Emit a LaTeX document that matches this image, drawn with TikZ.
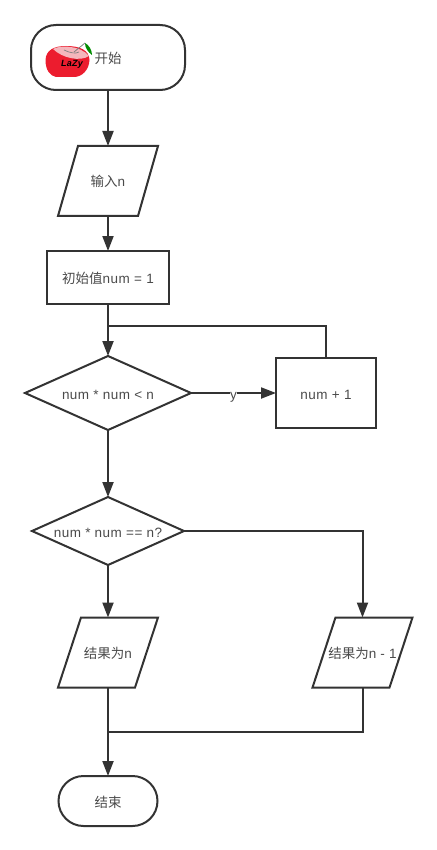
\documentclass[tikz,border=0pt]{standalone}
\usepackage{fontspec}
\setmainfont[LetterSpace=3.5]{Liberation Sans}
\newfontfamily\cjk{Noto Sans CJK SC}
\usepackage{xcolor}
\usepackage{tikz}
\usetikzlibrary{arrows.meta,shapes.geometric,calc}
\definecolor{linegray}{HTML}{333333}
\definecolor{textgray}{HTML}{4A4A4A}
\definecolor{applered}{HTML}{EC1C2E}
\definecolor{applepink}{HTML}{F4B6BC}
\tikzset{
  flowline/.style={draw=linegray,line width=2pt,line join=miter},
  flowarrow/.style={flowline,-{Triangle[length=15pt,width=11pt]}},
  flowtext/.style={font=\fontsize{13.5}{16}\selectfont,text=textgray,inner sep=0pt,outer sep=0pt,text height=12pt,text depth=0pt},
  terminalbox/.style={flowtext,flowline,rectangle,rounded corners=25pt},
  processbox/.style={flowtext,flowline,rectangle},
  decisionbox/.style={flowtext,flowline,diamond},
  inputbox/.style={flowtext,rectangle},
}
\begin{document}
\begin{tikzpicture}[x=1pt,y=-1pt]
\useasboundingbox (0,0) rectangle (436,850);
% Start and end
\node[terminalbox,minimum width=154pt,minimum height=65pt] (start) at (108,57.5) {};
\node[flowtext] (starttext) at (108,58) {{\cjk 开始}};
\node[terminalbox,minimum width=99pt,minimum height=50pt] (stop) at (108,801) {{\cjk 结束}};
% Boxes
\node[processbox,minimum width=122pt,minimum height=53pt] (init) at (108,277.5) {{\cjk 初始值}num = 1};
\node[processbox,minimum width=100pt,minimum height=70pt] (add) at (326,393) {num + 1};
% Decisions
\node[decisionbox,aspect=2.24,minimum width=166pt,minimum height=74pt] (less) at (108,393) {num * num < n};
\node[decisionbox,aspect=2.23,minimum width=152pt,minimum height=68pt] (equal) at (108,531) {num * num == n?};
% Parallelograms
\foreach \name/\x/\y/\skew/\label in {read/108/181/20/{{\cjk 输入}n}, resa/108/652.5/23/{{\cjk 结果为}n}, resb/362.5/652.5/23/{{\cjk 结果为}n - 1}} {
  \node[inputbox,minimum width=100pt,minimum height=70pt] (\name) at (\x,\y) {\label};
  \draw[flowline] ($(\name.north west)+(\skew pt,0)$) -- (\name.north east)
    -- ($(\name.south east)-(\skew pt,0)$) -- (\name.south west) -- cycle;
}
% Apple logo
\fill[applered] (45.5,60) .. controls (46,50) and (54,46) .. (66,46) .. controls (80,46) and (89,50) .. (89.5,60)
  .. controls (89,70) and (82,77) .. (74,77) -- (56,77) .. controls (50,76) and (45.5,70) .. (45.5,60);
\fill[applepink] (53,49) .. controls (60,45) and (80,45) .. (89,56) .. controls (80,62) and (62,58) .. (53,49);
\draw[gray,line width=0.7pt] (64,50) .. controls (70,53) and (76,54) .. (79,52);
\draw[gray,line width=0.8pt] (74,52) -- (85,43);
\fill[green!55!black] (85,43) .. controls (89,45) and (92,50) .. (92,55) .. controls (88,52) and (85,48) .. (85,43);
\node[font=\bfseries\itshape\fontsize{9}{9}\selectfont,inner sep=0pt] (lazy) at (72,64.5) {LaZy};
% Flow
\coordinate (loop) at (init.south |- 0,326);
\coordinate (merge) at (resa.south |- 0,732);
\draw[flowarrow] (start) -- (read);
\draw[flowarrow] (read) -- (init);
\draw[flowarrow] (init) -- (less);
\draw[flowline] (add) |- (loop);
\draw[flowarrow] (less) -- (add) node[midway,flowtext,fill=white] (yes) {y};
\draw[flowarrow] (less) -- (equal);
\draw[flowarrow] (equal) -- (resa);
\draw[flowarrow] (equal) -| (resb);
\draw[flowarrow] (resa) -- (stop);
\draw[flowline] (resb) |- (merge);
\end{tikzpicture}
\end{document}
